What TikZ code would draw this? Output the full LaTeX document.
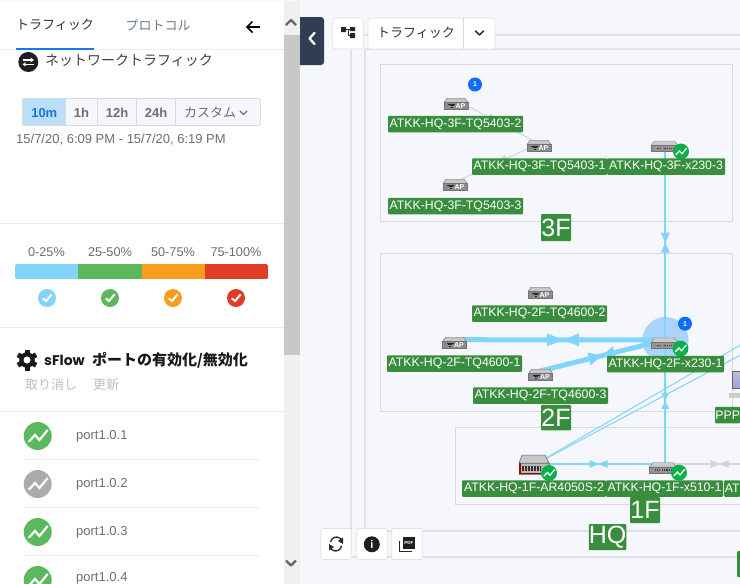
\documentclass[tikz,border=0pt]{standalone}
\usepackage{fontspec}
\usetikzlibrary{decorations.markings,arrows.meta}
\setmainfont{Liberation Sans}
\newfontfamily\jp{Noto Sans CJK JP}
\newfontfamily\popf{Poppins}
\definecolor{bgmain}{HTML}{F5F7FC}
\definecolor{frameg}{HTML}{D9DBDF}
\definecolor{outerg}{HTML}{E1E2E5}
\definecolor{lblg}{HTML}{388E3C}
\definecolor{traf}{HTML}{81D4FA}
\definecolor{gline}{HTML}{D2D4D8}
\definecolor{halo}{HTML}{A9D4FB}
\definecolor{bluedot}{HTML}{0D6EFD}
\definecolor{badgeg}{HTML}{0CB04A}
\definecolor{sgreen}{HTML}{5CB85C}
\definecolor{sorange}{HTML}{F99D1C}
\definecolor{sred}{HTML}{E03C26}
\definecolor{sline}{HTML}{ECECEC}
\definecolor{txtg}{HTML}{6E6E6E}
\definecolor{darknavy}{HTML}{2F3D55}
\definecolor{scrollbg}{HTML}{F0F0F0}
\definecolor{scrollth}{HTML}{C8C8C8}
\definecolor{seltab}{HTML}{BBDEFB}
\definecolor{seltxt}{HTML}{1976D2}
\definecolor{tabblue}{HTML}{1976F2}
\definecolor{tabgray}{HTML}{6B7A90}
\definecolor{portgray}{HTML}{ABABAB}
\newcommand{\fsz}[1]{\fontsize{#1}{#1}\selectfont}
\tikzset{
  x=1pt,y=-1pt,
  frm/.style={draw=outerg,line width=1.4pt},
  frmin/.style={draw=frameg,line width=1pt},
  lbl/.style={fill=lblg,text=white,rounded corners=1pt,inner sep=0pt,minimum height=16.5pt,font=\fsz{12.3}},
  biglbl/.style={fill=lblg,text=white,rounded corners=1pt,inner sep=0pt,font=\fsz{25}},
  anchorpt/.style={inner sep=0pt,minimum size=1pt},
  bitri/.style n args={4}{postaction={decorate,decoration={markings,mark=at position #1 with {\fill[#4] (-#2pt,-#3pt)--(0pt,0pt)--(-#2pt,#3pt)--cycle; \fill[#4] (#2pt,-#3pt)--(0pt,0pt)--(#2pt,#3pt)--cycle;}}}},
  thin traffic/.style={draw=traf,line width=2pt},
  thick traffic/.style={draw=traf,line width=5pt},
  hair traffic/.style={draw=traf,line width=1pt},
  idle link/.style={draw=gline,line width=1pt},
  idle link2/.style={draw=gline,line width=1.6pt},
  tabtxt/.style={inner sep=0pt,font=\jp\fsz{13}},
  seg/.style={draw=frameg,line width=.8pt,fill=bgmain},
  segtxt/.style={inner sep=0pt,text=txtg,font=\bfseries\fsz{13}},
  pcttxt/.style={inner sep=0pt,text=txtg,font=\fsz{12.7}},
  porttxt/.style={inner sep=0pt,anchor=west,text=txtg,font=\fsz{13}},
  btn/.style={draw=frameg!80,fill=white,line width=.8pt,rounded corners=2pt},
  chev/.style={draw=#1,line width=1.5pt,line cap=round,line join=round,fill=none},
  sep/.style={draw=sline,line width=1pt},
}
\newcommand{\apicon}[1]{%
  \begin{scope}[shift={(#1.center)}]
    \fill[draw=black!55,line width=.4pt,fill=black!22] (-12,-1.5)--(-9,-5.8)--(9,-5.8)--(12,-1.5)--cycle;
    \fill[draw=black!55,line width=.4pt,fill=black!45] (-12,-1.5) rectangle (12,5.5);
    \draw[black!85,line width=.9pt] (-8,0)--(-1,0) (-6.5,1.7)--(-2.5,1.7) (-5.5,3.3)--(-3.5,3.3);
    \node[inner sep=0pt,text=white,font=\bfseries\fsz{7}] (#1-ap) at (4.5,2) {AP};
  \end{scope}}
\newcommand{\swicon}[1]{%
  \begin{scope}[shift={(#1.center)}]
    \fill[draw=black!50,line width=.4pt,fill=black!20] (-13.5,-1)--(-10,-5.5)--(10,-5.5)--(13.5,-1)--cycle;
    \fill[draw=black!55,line width=.4pt,fill=black!42] (-13.5,-1) rectangle (13.5,5);
    \draw[black!75,line width=1.2pt,dash pattern=on 1pt off .8pt] (-8,2)--(-3,2) (-1,2)--(9,2);
  \end{scope}}
\newcommand{\aricon}[1]{%
  \begin{scope}[shift={(#1.center)}]
    \fill[draw=black!60,line width=.5pt,fill=black!22] (-15,-2)--(-12,-10)--(11,-10)--(15,-2)--cycle;
    \fill[draw=black!50,line width=.4pt,fill=black!28] (-15,-2) rectangle (15,8.7);
    \fill[red!65!black] (-15,-2) rectangle (-13.5,8.7);
    \fill[red!65!black] (-15,7.5) rectangle (15,8.7);
    \draw[black!80,line width=5pt,dash pattern=on 2pt off 1pt] (-12,3.7)--(7,3.7);
  \end{scope}}
\newcommand{\trendmark}[4]{% x,y, scale, colour
  \begin{scope}[shift={(#1,#2)},scale=#3]
    \fill[#4] (0,0) circle[radius=14];
    \draw[white,line width=#3*2.2pt,line join=miter] (-9,5.7)--(-2.7,-1)--(1.7,4)--(10,-6);
  \end{scope}}
\newcommand{\chkmark}[3]{% x,y,colour
  \begin{scope}[shift={(#1,#2)}]
    \fill[#3] (0,0) circle[radius=9];
    \draw[white,line width=2pt] (-4.2,0.3)--(-1,3)--(4.7,-3.7);
  \end{scope}}
\newcommand{\bluedotmark}[3]{%
  \fill[bluedot] (#2,#3) circle[radius=7];
  \node[inner sep=0pt,text=white,font=\bfseries\fsz{7}] (#1) at (#2,#3) {1};}
\begin{document}
\begin{tikzpicture}
\useasboundingbox (0,0) rectangle (740,584);
\clip (0,0) rectangle (740,584);
\fill[bgmain] (0,0) rectangle (740,584);
% frames
\draw[frm] (351,35) -- (760,35);
\draw[frm] (351,35) -- (351,557) -- (760,557);
\draw[frm] (365,49) -- (760,49);
\draw[frm] (365,49) -- (365,531) -- (760,531);
\draw[frmin] (380,64.5) rectangle (732,221.5);
\draw[frmin] (380,253) rectangle (732,411);
\draw[frmin] (455,427.5) -- (760,427.5);
\draw[frmin] (455,427.5) -- (455,504) -- (760,504);
% anchor nodes
\node[anchorpt] (ap32) at (456,104) {};
\node[anchorpt] (ap31) at (539,146) {};
\node[anchorpt] (ap33) at (455,185) {};
\node[anchorpt] (sw3) at (664.5,146.5) {};
\node[anchorpt] (ap22) at (540,293) {};
\node[anchorpt] (ap21) at (454.5,343) {};
\node[anchorpt] (ap23) at (540.5,375) {};
\node[anchorpt] (sw2) at (664.5,343.5) {};
\node[anchorpt] (sw1) at (663,468) {};
\node[anchorpt] (ar1) at (534,465) {};
\coordinate (ap32t) at (456,100);
\coordinate (ap31t) at (539,143.5);
\coordinate (ap33t) at (455,182);
\coordinate (ap21t) at (454.5,339.7);
\coordinate (ap23t) at (540,371);
\coordinate (sw3t) at (665.3,146.5);
\coordinate (sw2t) at (665.3,340);
\coordinate (sw1t) at (665,464);
\coordinate (ar1t) at (534,464);
\coordinate (offat) at (774.4,464);
\coordinate (offa) at (780,322);
\coordinate (offb) at (780,334);
% halo
\fill[halo] (665.5,340) circle[radius=23];
% connectors
\draw[idle link,bitri={0.5}{10}{4}{gline}] (ap32t) -- (ap31t);
\draw[idle link,bitri={0.5}{10}{4}{gline}] (ap31t) -- (ap33t);
\draw[thin traffic,bitri={0.497}{10}{4.5}{traf}] (sw3t) -- (sw2t);
\draw[thin traffic,bitri={0.49}{8}{4}{traf}] (sw2t) -- (sw1t);
\draw[thin traffic,bitri={0.494}{9}{4}{traf}] (ar1t) -- (sw1t);
\draw[idle link2,bitri={0.5}{9}{4}{gline}] (sw1t) -- (offat);
\draw[thick traffic,bitri={0.515}{16}{6.5}{traf}] (ap21t) -- (sw2t);
\draw[thick traffic,bitri={0.493}{13}{6.5}{traf}] (ap23t) -- (sw2t);
\draw[hair traffic] (ar1.center) -- (offa);
\draw[hair traffic] (ar1.center) -- (offb);
% icons
\apicon{ap32}\apicon{ap31}\apicon{ap33}\apicon{ap22}\apicon{ap21}\apicon{ap23}
\swicon{sw3}\swicon{sw2}\swicon{sw1}\aricon{ar1}
\trendmark{681}{151.5}{0.57}{badgeg}
\trendmark{680.5}{348.5}{0.57}{badgeg}
\trendmark{679}{472.7}{0.57}{badgeg}
\trendmark{549}{473}{0.57}{badgeg}
\bluedotmark{dot3}{475}{84.5}
\bluedotmark{dot2}{685}{323.7}
% PPP monitor
\fill[draw=black!60,line width=.8pt,top color=blue!25!gray!40,bottom color=blue!50!gray!50] (732.5,371.5) rectangle (750,388.5);
\fill[gray!40] (729,393) rectangle (745,398);
% labels
\node[lbl,minimum width=135pt] (l32) at (455.5,124) {ATKK-HQ-3F-TQ5403-2};
\node[lbl,minimum width=135pt] (l31) at (539.5,166.5) {ATKK-HQ-3F-TQ5403-1};
\node[lbl,minimum width=118pt] (l3s) at (666,166.5) {ATKK-HQ-3F-x230-3};
\node[lbl,minimum width=135pt] (l33) at (455.5,206) {ATKK-HQ-3F-TQ5403-3};
\node[biglbl,minimum width=30pt,minimum height=27pt] (f3) at (556,227.5) {3F};
\node[lbl,minimum width=135pt] (l22) at (539.5,313.5) {ATKK-HQ-2F-TQ4600-2};
\node[lbl,minimum width=135pt] (l21) at (454.5,363.5) {ATKK-HQ-2F-TQ4600-1};
\node[lbl,minimum width=117pt] (l2s) at (665.5,364) {ATKK-HQ-2F-x230-1};
\node[lbl,minimum width=135pt] (l23) at (540.5,395.5) {ATKK-HQ-2F-TQ4600-3};
\node[biglbl,minimum width=30pt,minimum height=25.5pt] (f2) at (556,417.5) {2F};
\node[lbl,anchor=west,minimum width=25pt] (lp) at (715,415) {PPP};
\node[lbl,minimum width=144pt] (lar) at (534,488.5) {ATKK-HQ-1F-AR4050S-2};
\node[lbl,minimum width=117pt] (l1s) at (664.5,488.5) {ATKK-HQ-1F-x510-1};
\node[lbl,anchor=west,minimum width=16pt] (lat) at (724,488.5) {AT};
\node[biglbl,minimum width=30pt,minimum height=26pt] (f1) at (645,510) {1F};
\node[biglbl,minimum width=37pt,minimum height=26pt] (fh) at (607.5,537) {HQ};
\fill[lblg,rounded corners=1pt] (737,551) rectangle (750,577);
% top buttons
\draw[btn] (332.7,18) rectangle (363.3,49);
\fill[black!85] (341,27) rectangle (346,32) (350,27) rectangle (355,31) (350,33) rectangle (355,38);
\draw[black!85,line width=1pt] (346,29.5)--(352,29.5) (348,29.5)--(348,35.5)--(352,35.5);
\draw[btn] (368,18) rectangle (495,49);
\draw[frameg,line width=.8pt] (463,18)--(463,49);
\node[inner sep=0pt,text=black!80,font=\jp\fsz{13}] (tb) at (416,32.5) {トラフィック};
\draw[chev=black!80] (475.5,31)--(479.5,35)--(483.5,31);
% collapse
\fill[darknavy,rounded corners=3pt] (294,17) rectangle (324,65);
\draw[white,line width=2.3pt,line cap=round,line join=round] (314.5,33)--(309.5,38.5)--(314.5,44);
% bottom buttons
\draw[btn] (320.7,528.5) rectangle (351.3,559.5);
\draw[black!85,line width=1.3pt] (342,541) arc[start angle=-20,end angle=-170,radius=6];
\draw[black!85,line width=1.3pt] (330,547) arc[start angle=160,end angle=10,radius=6];
\fill[black!85] (343,537.5)--(343,544)--(338,541)--cycle (329,550.5)--(329,544)--(334,547)--cycle;
\draw[btn] (356.7,528.5) rectangle (387.3,559.5);
\fill[black!88] (371.8,544.3) circle[radius=8];
\node[inner sep=0pt,text=white,font=\bfseries\fsz{11}] (info) at (371.8,544.3) {i};
\draw[btn] (391.7,528.5) rectangle (422.3,559.5);
\fill[black!88] (402.7,537) rectangle (415,549);
\node[inner sep=0pt,text=white,font=\bfseries\fsz{4.5}] (pdf) at (408.8,543) {PDF};
\draw[black!85,line width=1pt] (399.7,540.5)--(399.7,551.7)--(411.5,551.7);
% left panel
\fill[white] (0,0) rectangle (284,584);
\fill[bgmain] (0,0) rectangle (740,1.2);
\fill[scrollbg] (284,1.2) rectangle (300,584);
\fill[scrollth] (284,35) rectangle (300,355);
\draw[chev=black!60,line width=2.3pt,line cap=butt] (286,25)--(291,20)--(296,25);
\draw[chev=black!60,line width=2.3pt,line cap=butt] (286,560.5)--(291,565.5)--(296,560.5);
\draw[sline,line width=1pt] (0,49.5)--(284,49.5);
\fill[tabblue] (16,47.5) rectangle (94,49.5);
\node[tabtxt,text=black!80] (tabtr) at (55,25) {トラフィック};
\node[tabtxt,text=tabgray] (tabpr) at (158,25) {プロトコル};
\draw[black,line width=1.6pt] (247,27)--(260,27);
\draw[black,line width=1.6pt,line join=miter] (252.5,21.5)--(247,27)--(252.5,32.5);
% net title
\fill[black!88] (28.3,62) circle[radius=10];
\draw[white,line width=1.1pt,-{Stealth[length=3.5pt,width=4.5pt]}] (23,60)--(34,60);
\draw[white,line width=1.1pt,-{Stealth[length=3.5pt,width=4.5pt]}] (33.5,64.3)--(22.5,64.3);
\node[inner sep=0pt,anchor=west,text=black!75,font=\jp\fsz{14}] (nettitle) at (45,60.5) {ネットワークトラフィック};
% range buttons
\draw[seg,rounded corners=1.5pt] (22.5,98.5) rectangle (260.5,125.5);
\fill[seltab] (23,99) rectangle (65.5,125);
\draw[frameg,line width=.8pt] (65.5,98.5)--(65.5,125.5) (97.5,98.5)--(97.5,125.5) (136.5,98.5)--(136.5,125.5) (175.5,98.5)--(175.5,125.5);
\node[segtxt,text=seltxt] (r10) at (44.3,113) {10m};
\node[segtxt] (r1) at (81.5,113) {1h};
\node[segtxt] (r12) at (117,113) {12h};
\node[segtxt] (r24) at (156,113) {24h};
\node[inner sep=0pt,anchor=west,text=txtg,font=\jp\fsz{13}] (rc) at (184,112.5) {カスタム};
\draw[chev=txtg,line width=1.1pt] (240,111)--(243.5,114.5)--(247,111);
\node[inner sep=0pt,anchor=west,text=txtg,font=\fsz{13}] (rdate) at (16,140) {15/7/20, 6:09 PM - 15/7/20, 6:19 PM};
\draw[sep] (0,223.5)--(284,223.5);
% legend
\node[pcttxt] (p1) at (46.5,252) {0-25\%};
\node[pcttxt] (p2) at (110,252) {25-50\%};
\node[pcttxt] (p3) at (173,252) {50-75\%};
\node[pcttxt] (p4) at (236,252) {75-100\%};
\begin{scope}
  \clip[rounded corners=1.5pt] (15,264) rectangle (268,279);
  \fill[traf] (15,264) rectangle (78,279);
  \fill[sgreen] (78,264) rectangle (142,279);
  \fill[sorange] (142,264) rectangle (205,279);
  \fill[sred] (205,264) rectangle (268,279);
\end{scope}
\chkmark{47}{298}{traf}
\chkmark{110}{298}{sgreen}
\chkmark{173}{298}{sorange}
\chkmark{236}{298}{sred}
\draw[sep] (0,327.5)--(284,327.5);
% sflow title
\begin{scope}[shift={(27,360)}]
  \foreach \a in {0,60,...,300}{\fill[black!90,rotate=\a] (-2.5,-10.5) rectangle (2.5,0);}
  \fill[black!90] (0,0) circle[radius=7.8];
  \fill[white] (0,0) circle[radius=3.5];
\end{scope}
\node[inner sep=0pt,anchor=west,text=black!90,font=\bfseries\fsz{14}] (sft) at (44,360) {{\popf sFlow} {\jp\fsz{15} ポートの有効化/無効化}};
\node[inner sep=0pt,anchor=west,text=black!25,font=\jp\fsz{13}] (cancel) at (25,385) {取り消し};
\node[inner sep=0pt,anchor=west,text=black!25,font=\jp\fsz{13}] (upd) at (93,385) {更新};
\draw[sep,line width=1.4pt] (0,411.5)--(284,411.5);
% port list
\trendmark{37.7}{436}{1}{sgreen}
\node[porttxt] (po1) at (76,436.5) {port1.0.1};
\draw[sep] (24,459.5)--(259,459.5);
\trendmark{37.7}{484}{1}{portgray}
\node[porttxt] (po2) at (76,484.5) {port1.0.2};
\draw[sep] (24,507.5)--(259,507.5);
\trendmark{37.7}{532}{1}{sgreen}
\node[porttxt] (po3) at (76,532.5) {port1.0.3};
\draw[sep] (24,555.5)--(259,555.5);
\trendmark{37.7}{580}{1}{sgreen}
\node[porttxt] (po4) at (76,578.5) {port1.0.4};
\end{tikzpicture}
\end{document}
